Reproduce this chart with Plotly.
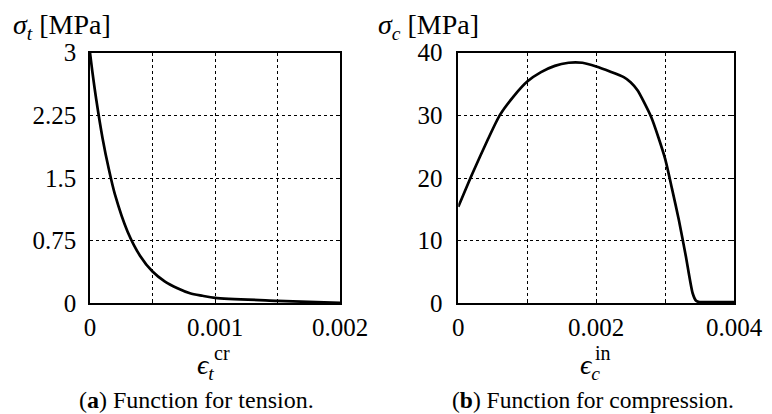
import plotly.graph_objects as go
from plotly.subplots import make_subplots

# ---- data ----
tension_strain = [0, 0.00002, 0.00005, 0.0001, 0.00015, 0.0002, 0.0003, 0.0004,
                  0.0005, 0.0006, 0.0007, 0.0008, 0.0009, 0.001, 0.0015, 0.002]
tension_stress = [3.0, 2.76, 2.44, 1.98, 1.61, 1.30, 0.86, 0.57,
                  0.38, 0.26, 0.18, 0.12, 0.09, 0.065, 0.03, 0.005]

comp_strain = [0, 0.0002, 0.000435, 0.0006, 0.0008, 0.001, 0.0012, 0.0014, 0.0016,
               0.0017, 0.0018, 0.002, 0.0022, 0.0024, 0.0025, 0.0026, 0.0028, 0.003,
               0.0031, 0.0032, 0.0033, 0.0034, 0.00345, 0.0035, 0.0036, 0.004]
comp_stress = [15.4, 20.6, 26.3, 30.0, 33.0, 35.4, 36.9, 37.9, 38.4,
               38.45, 38.4, 37.8, 37.0, 36.1, 35.3, 34.0, 29.7, 23.1,
               18.3, 13.3, 7.6, 1.6, 0.4, 0.2, 0.2, 0.2]

tension_xticks = [0, 0.0005, 0.001, 0.0015, 0.002]
tension_xlabels = ["0", "", "0.001", "", "0.002"]
tension_yticks = [0, 0.75, 1.5, 2.25, 3]
tension_ylabels = ["0", "0.75", "1.5", "2.25", "3"]
comp_xticks = [0, 0.001, 0.002, 0.003, 0.004]
comp_xlabels = ["0", "", "0.002", "", "0.004"]
comp_yticks = [0, 10, 20, 30, 40]
comp_ylabels = ["0", "10", "20", "30", "40"]

W, H = 772, 414
FONT = "Liberation Serif"

fig = make_subplots(rows=1, cols=2)

fig.add_trace(go.Scatter(x=tension_strain, y=tension_stress, mode="lines",
                         line=dict(color="black", width=2.7, shape="spline", smoothing=0.8),
                         showlegend=False), row=1, col=1)
fig.add_trace(go.Scatter(x=comp_strain, y=comp_stress, mode="lines",
                         line=dict(color="black", width=2.7, shape="spline", smoothing=0.6),
                         showlegend=False), row=1, col=2)

ydom = [1 - 303.3 / H, 1 - 52.7 / H]

common_axis = dict(showline=True, linecolor="black", linewidth=1.5, mirror="ticks",
                   ticks="inside", ticklen=3, tickcolor="black", automargin=False,
                   showgrid=True, gridcolor="black", gridwidth=1, griddash="dot",
                   zeroline=False, tickfont=dict(family=FONT, size=25, color="black"))

fig.update_xaxes(**common_axis)
fig.update_yaxes(**common_axis)

fig.update_xaxes(domain=[90 / W, 340 / W], range=[0, 0.002],
                 tickvals=tension_xticks, ticktext=tension_xlabels,
                 ticklabelstandoff=1, row=1, col=1)
fig.update_yaxes(domain=ydom, range=[0, 3], tickvals=tension_yticks,
                 ticktext=tension_ylabels, ticklabelstandoff=7, row=1, col=1)
fig.update_xaxes(domain=[458.3 / W, 734 / W], range=[0, 0.004],
                 tickvals=comp_xticks, ticktext=comp_xlabels,
                 ticklabelstandoff=1, row=1, col=2)
fig.update_yaxes(domain=ydom, range=[0, 40], tickvals=comp_yticks,
                 ticktext=comp_ylabels, ticklabelstandoff=9, row=1, col=2)


def px_ann(text, x, y, size, xanchor="center", yanchor="middle"):
    fig.add_annotation(text=text, x=x / W, y=1 - y / H, xref="paper", yref="paper",
                       xanchor=xanchor, yanchor=yanchor, showarrow=False,
                       font=dict(family=FONT, size=size, color="black"))


px_ann("<i>σ</i><sub><i>t</i></sub> [MPa]", 11, 26, 28, xanchor="left")
px_ann("<i>σ</i><sub><i>c</i></sub> [MPa]", 376, 26, 28, xanchor="left")

px_ann("<i>ϵ</i><sub><i>t</i></sub>", 205, 366, 28)
px_ann("cr", 222, 353, 20)
px_ann("<i>ϵ</i><sub><i>c</i></sub>", 590, 366, 28)
px_ann("in", 603, 353, 20)

px_ann("(<b>a</b>) Function for tension.", 196, 400, 24)
px_ann("(<b>b</b>) Function for compression.", 593, 400, 23.5)

fig.update_layout(width=W, height=H, margin=dict(l=0, r=0, t=0, b=0),
                  plot_bgcolor="white", paper_bgcolor="white",
                  font=dict(family=FONT, color="black"))

fig.write_html("out.html")
